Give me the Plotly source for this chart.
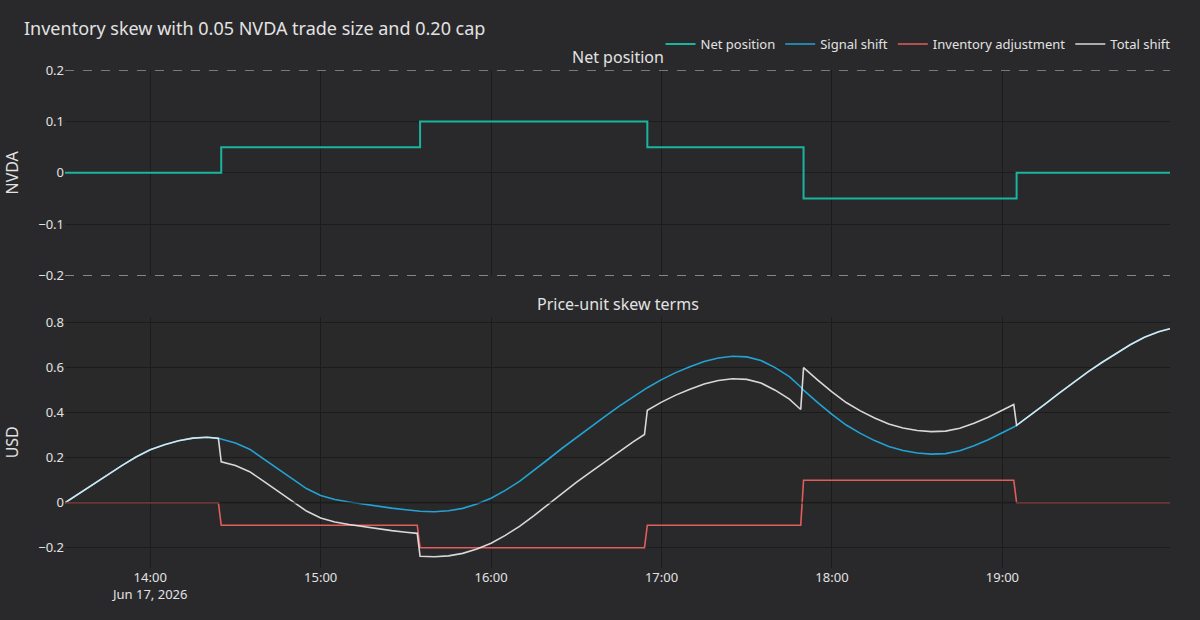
import plotly.graph_objects as go
from plotly.subplots import make_subplots

# ---- data ----
times = [
    "13:30", "13:35", "13:40", "13:45", "13:50", "13:55", "14:00", "14:05", "14:10", "14:15", "14:20", "14:24",
    "14:25", "14:30", "14:35", "14:40", "14:45", "14:50", "14:55", "15:00", "15:05", "15:10", "15:15", "15:20",
    "15:25", "15:30", "15:34",
    "15:35", "15:40", "15:45", "15:50", "15:55", "16:00", "16:05", "16:10", "16:15", "16:20", "16:25", "16:30",
    "16:35", "16:40", "16:45", "16:50", "16:54",
    "16:55", "17:00", "17:05", "17:10", "17:15", "17:20", "17:25", "17:30", "17:35", "17:40", "17:45", "17:49",
    "17:50", "17:55", "18:00", "18:05", "18:10", "18:15", "18:20", "18:25", "18:30", "18:35", "18:40", "18:45",
    "18:50", "18:55", "19:00", "19:04",
    "19:05", "19:10", "19:15", "19:20", "19:25", "19:30", "19:35", "19:40", "19:45", "19:50", "19:55", "19:59",
]
timestamps = ["2026-06-17 " + t for t in times]

net_position = (
    [0.0] * 12 + [0.05] * 15 + [0.10] * 17 + [0.05] * 12 + [-0.05] * 16 + [0.0] * 12
)

signal_shift = [
    0.000, 0.042, 0.083, 0.122, 0.165, 0.203, 0.235, 0.258, 0.275, 0.287, 0.291, 0.286,
    0.282, 0.265, 0.238, 0.195, 0.150, 0.105, 0.063, 0.032, 0.014, 0.003, -0.007, -0.016,
    -0.024, -0.031, -0.036,
    -0.038, -0.040, -0.036, -0.025, -0.006, 0.020, 0.055, 0.095, 0.142, 0.192, 0.242, 0.290,
    0.336, 0.382, 0.428, 0.470, 0.503,
    0.511, 0.547, 0.578, 0.604, 0.627, 0.643, 0.651, 0.648, 0.632, 0.600, 0.560, 0.514,
    0.500, 0.445, 0.392, 0.345, 0.308, 0.276, 0.250, 0.232, 0.221, 0.216, 0.218, 0.231,
    0.253, 0.280, 0.310, 0.336,
    0.344, 0.390, 0.438, 0.487, 0.535, 0.580, 0.623, 0.664, 0.702, 0.735, 0.760, 0.773,
]

inventory_adjustment = (
    [0.0] * 12 + [-0.1] * 15 + [-0.2] * 17 + [-0.1] * 12 + [0.1] * 16 + [0.0] * 12
)

total_shift = [
    0.000, 0.042, 0.083, 0.122, 0.165, 0.203, 0.235, 0.258, 0.275, 0.287, 0.291, 0.286,
    0.182, 0.165, 0.138, 0.095, 0.050, 0.005, -0.037, -0.068, -0.086, -0.097, -0.107, -0.116,
    -0.124, -0.131, -0.136,
    -0.238, -0.240, -0.236, -0.225, -0.206, -0.180, -0.145, -0.105, -0.058, -0.008, 0.042, 0.090,
    0.136, 0.182, 0.228, 0.270, 0.303,
    0.411, 0.447, 0.478, 0.504, 0.527, 0.543, 0.551, 0.548, 0.532, 0.500, 0.460, 0.414,
    0.600, 0.545, 0.492, 0.445, 0.408, 0.376, 0.350, 0.332, 0.321, 0.316, 0.318, 0.331,
    0.353, 0.380, 0.410, 0.436,
    0.344, 0.390, 0.438, 0.487, 0.535, 0.580, 0.623, 0.664, 0.702, 0.735, 0.760, 0.773,
]

position_cap = 0.20

# ---- styling ----
BG = "#29292b"
GRID = "#1c1c1d"
TEXT = "#e2e2e2"
FONT = "Noto Sans"

fig = make_subplots(
    rows=2, cols=1, shared_xaxes=True,
    row_heights=[0.45, 0.55], vertical_spacing=0.082,
    subplot_titles=("Net position", "Price-unit skew terms"),
)

fig.add_trace(go.Scatter(x=timestamps, y=net_position, name="Net position", mode="lines",
                         line=dict(color="#19b5a0", width=2, shape="hv")), row=1, col=1)
fig.add_trace(go.Scatter(x=timestamps, y=signal_shift, name="Signal shift", mode="lines",
                         line=dict(color="#23a3d3", width=1.6)), row=2, col=1)
fig.add_trace(go.Scatter(x=timestamps, y=inventory_adjustment, name="Inventory adjustment", mode="lines",
                         line=dict(color="#e35d5d", width=1.6)), row=2, col=1)
fig.add_trace(go.Scatter(x=timestamps, y=total_shift, name="Total shift", mode="lines",
                         line=dict(color="#f0f0f0", width=1.6), opacity=0.88), row=2, col=1)

for yv in (position_cap, -position_cap):
    fig.add_hline(y=yv, line=dict(color="#c9c9c9", width=1, dash="dash"), row=1, col=1)
fig.add_hline(y=0, line=dict(color="rgba(30,30,30,0.6)", width=2), row=2, col=1)

axis_common = dict(showgrid=True, gridcolor=GRID, zeroline=False, showline=False,
                   tickfont=dict(size=13, color=TEXT, family=FONT))
fig.update_xaxes(**axis_common, range=["2026-06-17 13:30", "2026-06-17 19:59"])
fig.update_yaxes(**axis_common)
fig.update_yaxes(range=[-0.2, 0.2], tickvals=[-0.2, -0.1, 0, 0.1, 0.2], title_text="NVDA",
                 title_font=dict(size=16, color=TEXT), row=1, col=1)
fig.update_yaxes(range=[-0.29, 0.827], tickvals=[-0.2, 0, 0.2, 0.4, 0.6, 0.8], title_text="USD",
                 title_font=dict(size=16, color=TEXT), row=2, col=1)

for ann in fig.layout.annotations:
    ann.font = dict(size=16, color=TEXT, family=FONT)

fig.update_layout(
    width=1200, height=620,
    paper_bgcolor=BG, plot_bgcolor=BG,
    font=dict(family=FONT, color=TEXT, size=13),
    title=dict(text="Inventory skew with 0.05 NVDA trade size and 0.20 cap",
               x=0.02, xanchor="left", y=0.953, yanchor="middle",
               font=dict(size=18, color=TEXT, family=FONT)),
    legend=dict(orientation="h", x=1.005, xanchor="right", y=1.022, yanchor="bottom",
                bgcolor="rgba(0,0,0,0)", font=dict(size=13, color=TEXT, family=FONT)),
    margin=dict(l=65, r=30, t=70, b=52),
    hovermode="x unified",
)

fig.write_html("out.html")
